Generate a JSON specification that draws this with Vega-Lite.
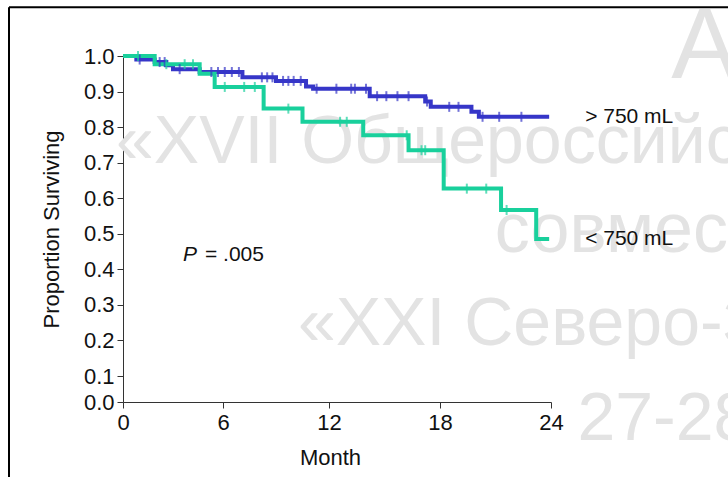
{
  "$schema": "https://vega.github.io/schema/vega-lite/v6.json",
  "width": 428,
  "height": 346,
  "autosize": {"type": "none"},
  "padding": {"left": 123, "top": 56, "right": 177, "bottom": 75},
  "background": "white",
  "config": {
    "view": {"stroke": null},
    "font": "Liberation Sans",
    "axis": {
      "grid": false,
      "labelFont": "Liberation Sans",
      "titleFont": "Liberation Sans",
      "labelFontSize": 22,
      "titleFontSize": 22,
      "titleFontWeight": "normal",
      "labelColor": "#111111",
      "titleColor": "#111111",
      "domainColor": "#333333",
      "tickColor": "#333333",
      "tickSize": 6,
      "labelOverlap": false,
      "labelFlush": false
    }
  },
  "datasets": {
    "curves": [
      {"group": "> 750 mL", "month": 0, "surv": 1.0},
      {"group": "> 750 mL", "month": 0.8, "surv": 0.99},
      {"group": "> 750 mL", "month": 1.9, "surv": 0.983},
      {"group": "> 750 mL", "month": 2.6, "surv": 0.974},
      {"group": "> 750 mL", "month": 3.0, "surv": 0.963},
      {"group": "> 750 mL", "month": 4.6, "surv": 0.955},
      {"group": "> 750 mL", "month": 7.1, "surv": 0.94},
      {"group": "> 750 mL", "month": 9.0, "surv": 0.93},
      {"group": "> 750 mL", "month": 10.7, "surv": 0.914},
      {"group": "> 750 mL", "month": 11.1, "surv": 0.908},
      {"group": "> 750 mL", "month": 14.2, "surv": 0.887},
      {"group": "> 750 mL", "month": 17.2, "surv": 0.872},
      {"group": "> 750 mL", "month": 17.5, "surv": 0.857},
      {"group": "> 750 mL", "month": 19.7, "surv": 0.843},
      {"group": "> 750 mL", "month": 20.1, "surv": 0.829},
      {"group": "> 750 mL", "month": 23.9, "surv": 0.829},
      {"group": "< 750 mL", "month": 0, "surv": 1.0},
      {"group": "< 750 mL", "month": 1.9, "surv": 0.977},
      {"group": "< 750 mL", "month": 4.6, "surv": 0.95},
      {"group": "< 750 mL", "month": 5.5, "surv": 0.913},
      {"group": "< 750 mL", "month": 8.3, "surv": 0.852},
      {"group": "< 750 mL", "month": 10.5, "surv": 0.815},
      {"group": "< 750 mL", "month": 13.85, "surv": 0.777},
      {"group": "< 750 mL", "month": 16.3, "surv": 0.735},
      {"group": "< 750 mL", "month": 18.2, "surv": 0.627},
      {"group": "< 750 mL", "month": 21.3, "surv": 0.567},
      {"group": "< 750 mL", "month": 23.2, "surv": 0.485},
      {"group": "< 750 mL", "month": 23.9, "surv": 0.485}
    ],
    "censor": [
      {"group": "> 750 mL", "month": 1.0, "surv": 0.99},
      {"group": "> 750 mL", "month": 2.2, "surv": 0.983},
      {"group": "> 750 mL", "month": 2.5, "surv": 0.983},
      {"group": "> 750 mL", "month": 3.4, "surv": 0.963},
      {"group": "> 750 mL", "month": 5.3, "surv": 0.955},
      {"group": "> 750 mL", "month": 5.7, "surv": 0.955},
      {"group": "> 750 mL", "month": 6.1, "surv": 0.955},
      {"group": "> 750 mL", "month": 6.5, "surv": 0.955},
      {"group": "> 750 mL", "month": 6.9, "surv": 0.955},
      {"group": "> 750 mL", "month": 8.2, "surv": 0.94},
      {"group": "> 750 mL", "month": 8.5, "surv": 0.94},
      {"group": "> 750 mL", "month": 8.8, "surv": 0.94},
      {"group": "> 750 mL", "month": 9.4, "surv": 0.93},
      {"group": "> 750 mL", "month": 9.7, "surv": 0.93},
      {"group": "> 750 mL", "month": 10.0, "surv": 0.93},
      {"group": "> 750 mL", "month": 10.4, "surv": 0.93},
      {"group": "> 750 mL", "month": 11.3, "surv": 0.908},
      {"group": "> 750 mL", "month": 12.4, "surv": 0.908},
      {"group": "> 750 mL", "month": 13.2, "surv": 0.908},
      {"group": "> 750 mL", "month": 13.4, "surv": 0.908},
      {"group": "> 750 mL", "month": 14.0, "surv": 0.908},
      {"group": "> 750 mL", "month": 14.6, "surv": 0.887},
      {"group": "> 750 mL", "month": 15.1, "surv": 0.887},
      {"group": "> 750 mL", "month": 15.7, "surv": 0.887},
      {"group": "> 750 mL", "month": 16.3, "surv": 0.887},
      {"group": "> 750 mL", "month": 17.3, "surv": 0.872},
      {"group": "> 750 mL", "month": 18.5, "surv": 0.857},
      {"group": "> 750 mL", "month": 19.0, "surv": 0.857},
      {"group": "> 750 mL", "month": 20.3, "surv": 0.829},
      {"group": "> 750 mL", "month": 21.2, "surv": 0.829},
      {"group": "> 750 mL", "month": 22.4, "surv": 0.829},
      {"group": "< 750 mL", "month": 0.9, "surv": 1.0},
      {"group": "< 750 mL", "month": 2.6, "surv": 0.977},
      {"group": "< 750 mL", "month": 3.7, "surv": 0.977},
      {"group": "< 750 mL", "month": 4.2, "surv": 0.977},
      {"group": "< 750 mL", "month": 6.1, "surv": 0.913},
      {"group": "< 750 mL", "month": 7.2, "surv": 0.913},
      {"group": "< 750 mL", "month": 7.8, "surv": 0.913},
      {"group": "< 750 mL", "month": 9.7, "surv": 0.852},
      {"group": "< 750 mL", "month": 12.6, "surv": 0.815},
      {"group": "< 750 mL", "month": 12.96, "surv": 0.815},
      {"group": "< 750 mL", "month": 16.2, "surv": 0.777},
      {"group": "< 750 mL", "month": 17.0, "surv": 0.735},
      {"group": "< 750 mL", "month": 17.2, "surv": 0.735},
      {"group": "< 750 mL", "month": 19.45, "surv": 0.627},
      {"group": "< 750 mL", "month": 20.5, "surv": 0.627},
      {"group": "< 750 mL", "month": 21.6, "surv": 0.567}
    ]
  },
  "layer": [
    {
      "data": {"values": [{}]},
      "mark": {"type": "text", "align": "left", "baseline": "alphabetic", "fontSize": 68, "font": "Liberation Sans", "color": "#e3e3e3"},
      "encoding": {
        "x": {"datum": -0.42, "type": "quantitative"},
        "y": {"datum": 0.698, "type": "quantitative"},
        "text": {"value": "«XVII Общероссийский"}
      }
    },
    {
      "data": {"values": [{}]},
      "mark": {"type": "text", "align": "left", "baseline": "alphabetic", "fontSize": 70, "font": "Liberation Sans", "color": "#e3e3e3"},
      "encoding": {
        "x": {"datum": 20.96, "type": "quantitative"},
        "y": {"datum": 0.448, "type": "quantitative"},
        "text": {"value": "совместно"}
      }
    },
    {
      "data": {"values": [{}]},
      "mark": {"type": "text", "align": "left", "baseline": "alphabetic", "fontSize": 68, "font": "Liberation Sans", "color": "#e3e3e3"},
      "encoding": {
        "x": {"datum": 10.24, "type": "quantitative"},
        "y": {"datum": 0.186, "type": "quantitative"},
        "text": {"value": "«XXI Северо-Западный"}
      }
    },
    {
      "data": {"values": [{}]},
      "mark": {"type": "text", "align": "left", "baseline": "alphabetic", "fontSize": 68, "font": "Liberation Sans", "color": "#e3e3e3"},
      "encoding": {
        "x": {"datum": 25.43, "type": "quantitative"},
        "y": {"datum": -0.146, "type": "quantitative"},
        "text": {"value": "27-28"}
      }
    },
    {
      "data": {"values": [{}]},
      "mark": {"type": "text", "align": "left", "baseline": "alphabetic", "fontSize": 100, "font": "Liberation Sans", "color": "#e3e3e3"},
      "encoding": {
        "x": {"datum": 30.5, "type": "quantitative"},
        "y": {"datum": 0.937, "type": "quantitative"},
        "text": {"value": "АССОЦИАЦИЯ"}
      }
    },
    {
      "data": {"values": [{}]},
      "mark": {"type": "rule", "color": "#000000", "strokeWidth": 2},
      "encoding": {
        "x": {"datum": -6.84, "type": "quantitative"},
        "y": {"datum": 1.137, "type": "quantitative"},
        "y2": {"datum": -0.6}
      }
    },
    {
      "data": {"values": [{}]},
      "mark": {"type": "rule", "color": "#000000", "strokeWidth": 2},
      "encoding": {
        "x": {"datum": -6.84, "type": "quantitative"},
        "x2": {"datum": 40},
        "y": {"datum": 1.137, "type": "quantitative"}
      }
    },
    {
      "data": {"name": "curves"},
      "mark": {"type": "line", "interpolate": "step-after", "strokeWidth": 4, "strokeCap": "butt"},
      "encoding": {
        "x": {"field": "month", "type": "quantitative", "title": "Month",
              "scale": {"domain": [0, 6, 12, 18, 24], "range": [0, 100, 206, 317, 428], "nice": false, "zero": false},
              "axis": {"values": [0, 6, 12, 18, 24], "tickCount": 10, "format": "d", "labelPadding": 4, "titlePadding": 14, "titleX": 207, "labelOverlap": false, "labelFlush": false}},
        "y": {"field": "surv", "type": "quantitative", "title": "Proportion Surviving",
              "scale": {"domain": [0, 0.1, 1], "range": [346, 320, 0], "nice": false, "zero": false},
              "axis": {"values": [0, 0.1, 0.2, 0.3, 0.4, 0.5, 0.6, 0.7, 0.8, 0.9, 1.0], "tickCount": 12, "format": ".1f", "labelPadding": 3, "titlePadding": 20, "labelOverlap": false, "labelSeparation": 0, "labelBound": false}},
        "color": {"field": "group", "type": "nominal", "legend": null,
                  "scale": {"domain": ["> 750 mL", "< 750 mL"], "range": ["#3636c8", "#19d09c"]}},
        "order": {"field": "month", "type": "quantitative"}
      }
    },
    {
      "data": {"name": "censor"},
      "mark": {"type": "tick", "orient": "vertical", "size": 10, "thickness": 2},
      "encoding": {
        "x": {"field": "month", "type": "quantitative", "title": "Month",
              "scale": {"domain": [0, 6, 12, 18, 24], "range": [0, 100, 206, 317, 428], "nice": false, "zero": false}},
        "y": {"field": "surv", "type": "quantitative", "title": "Proportion Surviving",
              "scale": {"domain": [0, 0.1, 1], "range": [346, 320, 0], "nice": false, "zero": false}},
        "color": {"field": "group", "type": "nominal", "legend": null,
                  "scale": {"domain": ["> 750 mL", "< 750 mL"], "range": ["#3636c8", "#19d09c"]}}
      }
    },
    {
      "data": {"name": "curves"},
      "transform": [
        {"joinaggregate": [{"op": "max", "field": "month", "as": "maxMonth"}], "groupby": ["group"]},
        {"filter": "datum.month === datum.maxMonth"}
      ],
      "mark": {"type": "text", "align": "left", "baseline": "middle", "dx": 36, "fontSize": 21, "font": "Liberation Sans", "color": "#111111"},
      "encoding": {
        "x": {"field": "month", "type": "quantitative", "title": "Month",
              "scale": {"domain": [0, 6, 12, 18, 24], "range": [0, 100, 206, 317, 428], "nice": false, "zero": false}},
        "y": {"field": "surv", "type": "quantitative", "title": "Proportion Surviving",
              "scale": {"domain": [0, 0.1, 1], "range": [346, 320, 0], "nice": false, "zero": false}},
        "text": {"field": "group"}
      }
    },
    {
      "data": {"values": [{}]},
      "mark": {"type": "text", "align": "left", "baseline": "alphabetic", "fontSize": 21, "fontStyle": "italic", "font": "Liberation Sans", "color": "#111111"},
      "encoding": {
        "x": {"datum": 3.6, "type": "quantitative"},
        "y": {"datum": 0.4235, "type": "quantitative"},
        "text": {"value": "P"}
      }
    },
    {
      "data": {"values": [{}]},
      "mark": {"type": "text", "align": "left", "baseline": "alphabetic", "fontSize": 21, "font": "Liberation Sans", "color": "#111111"},
      "encoding": {
        "x": {"datum": 4.92, "type": "quantitative"},
        "y": {"datum": 0.4235, "type": "quantitative"},
        "text": {"value": "= .005"}
      }
    }
  ]
}
